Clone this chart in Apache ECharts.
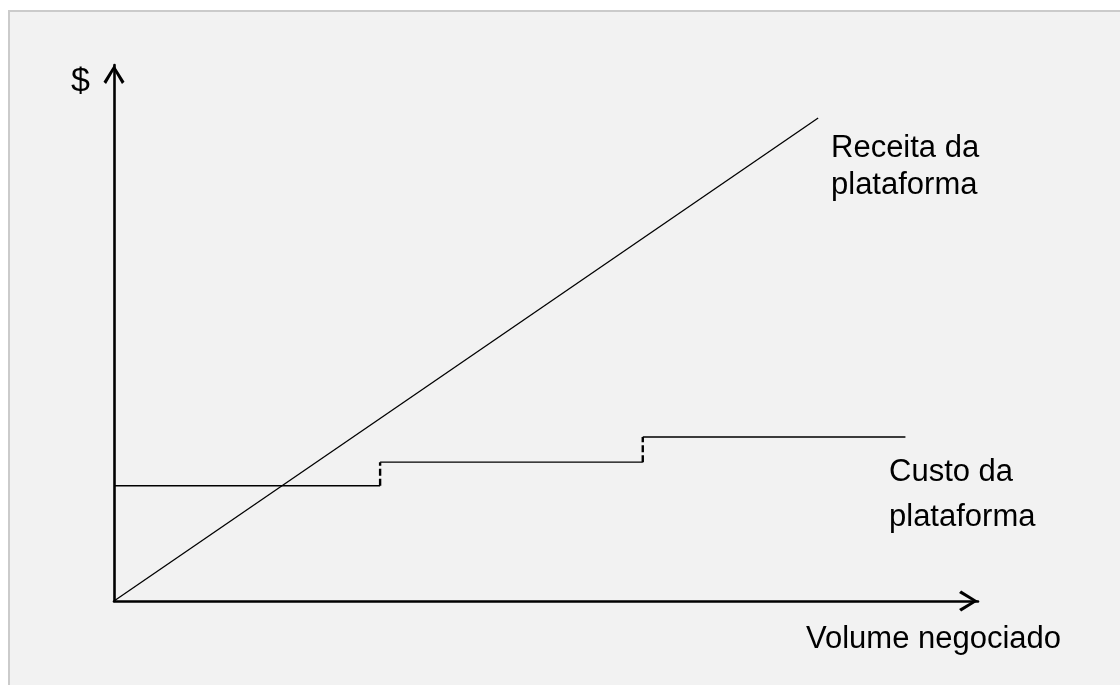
<!DOCTYPE html>
<html>
<head>
<meta charset="utf-8">
<script src="https://cdn.jsdelivr.net/npm/echarts@6/dist/echarts.min.js"></script>
<style>
  html, body { margin: 0; padding: 0; background: #ffffff; overflow: hidden; }
  #frame { position: absolute; left: 8px; top: 10px; width: 1130px; height: 700px;
           background: #f2f2f2; border-left: 2px solid #cbcbcb; border-top: 2px solid #cbcbcb; }
  #chart { position: absolute; left: 0; top: 0; width: 1120px; height: 685px; }
</style>
</head>
<body>
<div id="frame"></div>
<div id="chart"></div>
<script>
// Revenue line (Receita da plataforma)
const revenueX = [0, 81.5];
const revenueY = [0, 90.1];
// Cost steps (Custo da plataforma)
const costBreaksX = [0, 30.8, 61.2, 91.6];
const costLevels = [21.5, 25.9, 30.6];
// Text labels
const labelRevenue = ['Receita da', 'plataforma'];
const labelCost = ['Custo da', 'plataforma'];
const labelX = 'Volume negociado';
const labelY = '$';

const revenueData = revenueX.map((x, i) => [x, revenueY[i]]);
const costSolid = [];
costLevels.forEach((lv, i) => {
  if (i > 0) costSolid.push('-');
  costSolid.push([costBreaksX[i], lv]);
  costSolid.push([costBreaksX[i + 1], lv]);
});
const costDashed = [];
for (let i = 1; i < costLevels.length; i++) {
  if (i > 1) costDashed.push('-');
  costDashed.push([costBreaksX[i], costLevels[i - 1]]);
  costDashed.push([costBreaksX[i], costLevels[i]]);
}

const chevron = 'path://M0,16 L10,0 L20,16 L17.6,18 L10,5 L2.4,18 Z';
const fontFam = '"Liberation Sans", Arial, sans-serif';
function txt(t, x, y, size) {
  return { type: 'text', x: x, y: y, silent: true,
    style: { text: t, font: (size || 31) + 'px ' + fontFam, fill: '#000', textAlign: 'left', textVerticalAlign: 'middle' } };
}

const chart = echarts.init(document.getElementById('chart'), null, { renderer: 'canvas' });
chart.setOption({
  backgroundColor: 'transparent',
  animation: false,
  grid: { left: 114, top: 65, right: 142, bottom: 84 },
  xAxis: {
    type: 'value', min: 0, max: 100,
    axisLine: { show: true, onZero: false, symbol: ['none', chevron], symbolSize: [21, 19], symbolOffset: [0, -9.5],
      lineStyle: { color: '#000', width: 2.6 } },
    axisTick: { show: false }, axisLabel: { show: false }, splitLine: { show: false }
  },
  yAxis: {
    type: 'value', min: 0, max: 100,
    axisLine: { show: true, onZero: false, symbol: ['none', chevron], symbolSize: [21, 19], symbolOffset: [0, -9.5],
      lineStyle: { color: '#000', width: 2.6 } },
    axisTick: { show: false }, axisLabel: { show: false }, splitLine: { show: false }
  },
  series: [
    { type: 'line', data: revenueData, showSymbol: false, symbol: 'none', silent: true,
      lineStyle: { color: '#000', width: 1.3 } },
    { type: 'line', data: costSolid, showSymbol: false, symbol: 'none', silent: true, connectNulls: false,
      lineStyle: { color: '#000', width: 1.3 } },
    { type: 'line', data: costDashed, showSymbol: false, symbol: 'none', silent: true, connectNulls: false,
      lineStyle: { color: '#000', width: 2.4, type: [7, 3] } }
  ],
  graphic: [
    txt(labelY, 71, 82, 34),
    txt(labelRevenue[0], 831, 148),
    txt(labelRevenue[1], 831, 185),
    txt(labelCost[0], 889, 472),
    txt(labelCost[1], 889, 517),
    txt(labelX, 806, 639)
  ]
});
</script>
</body>
</html>
